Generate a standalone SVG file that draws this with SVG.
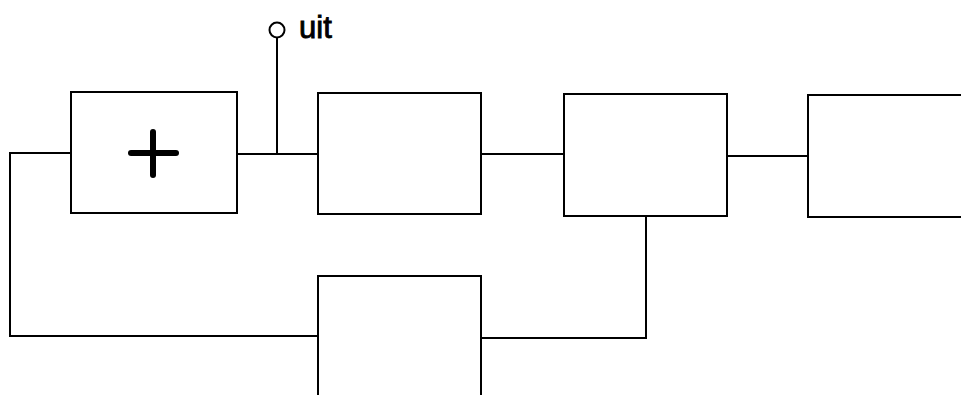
<svg xmlns="http://www.w3.org/2000/svg" width="961" height="395" viewBox="0 0 961 395">
<style>
.box{fill:#fff;stroke:#000;stroke-width:2}
.wire{fill:none;stroke:#000;stroke-width:2}
.plus{stroke:#000;stroke-width:6;stroke-linecap:round}
.lbl{font-family:"Liberation Sans",Arial,sans-serif;font-size:31px;fill:#000;stroke:#000;stroke-width:0.9}
</style>
<rect width="961" height="395" fill="#fff"/>
<g id="connectors">
<polyline class="wire" points="71,153 10,153 10,336 318,336"/>
<line class="wire" x1="237" y1="154" x2="318" y2="154"/>
<line class="wire" x1="277" y1="154" x2="277" y2="38"/>
<line class="wire" x1="481" y1="154" x2="564" y2="154"/>
<line class="wire" x1="727" y1="156" x2="808" y2="156"/>
<polyline class="wire" points="646,216 646,338 481,338"/>
</g>
<g id="output">
<circle cx="277" cy="30" r="7.5" fill="#fff" stroke="#000" stroke-width="2"/>
<text class="lbl" x="299" y="38">uit</text>
</g>
<g id="sum">
<rect class="box" x="71" y="92" width="166" height="121"/>
<line class="plus" x1="131" y1="153" x2="176" y2="153"/>
<line class="plus" x1="153" y1="132" x2="153" y2="175"/>
</g>
<g id="block2"><rect class="box" x="318" y="93" width="163" height="121"/></g>
<g id="block3"><rect class="box" x="564" y="94" width="163" height="122"/></g>
<g id="block4"><rect class="box" x="808" y="95" width="170" height="122"/></g>
<g id="block5"><rect class="box" x="318" y="276" width="163" height="130"/></g>
</svg>
